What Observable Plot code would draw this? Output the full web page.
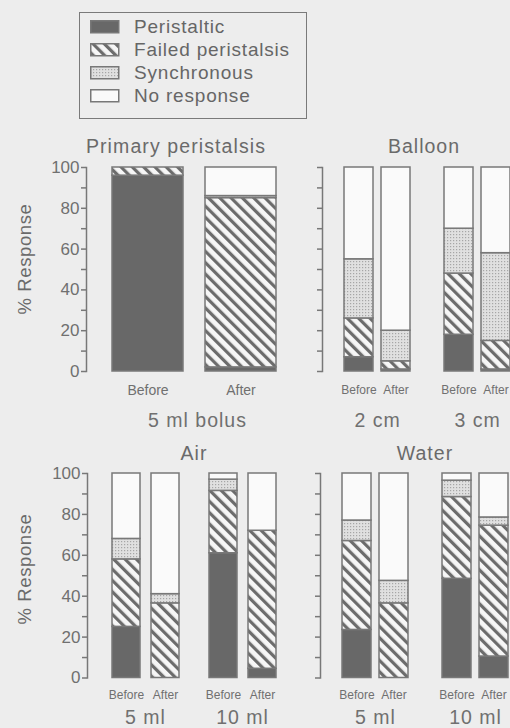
<!DOCTYPE html>
<html>
<head>
<meta charset="utf-8">
<script src="https://cdn.jsdelivr.net/npm/d3@7"></script>
<script src="https://cdn.jsdelivr.net/npm/@observablehq/plot@0.6"></script>
<style>
  html, body { margin: 0; padding: 0; background: #ededed; }
  #page { position: relative; width: 510px; height: 728px; overflow: hidden; background: #ededed;
          font-family: "Liberation Sans", Arial, Helvetica, sans-serif; color: #6a6a6a; }
  .panel { position: absolute; }
  .panel svg { overflow: visible; }
  #legend { position: absolute; left: 79px; top: 12px; width: 226px; height: 105px;
            border: 1.5px solid #7a7a7a; box-sizing: content-box; }
  .lrow { position: absolute; left: 0; height: 22px; }
  .lrow svg { position: absolute; left: 10px; top: 4px; }
  .lrow span { position: absolute; left: 54px; top: 0; font-size: 19px; letter-spacing: 0.8px;
               line-height: 22px; white-space: nowrap; color: #666; }
  g[aria-label="fx-axis tick label"] text { letter-spacing: 1px; }
  #overlay { position: absolute; left: 0; top: 0; pointer-events: none; }
  #overlay text { font-family: "Liberation Sans", Arial, Helvetica, sans-serif; fill: #6a6a6a; }
</style>
</head>
<body>
<svg width="0" height="0" style="position:absolute">
  <defs>
    <pattern id="hatch" patternUnits="userSpaceOnUse" width="8" height="8" patternTransform="rotate(-45)">
      <rect width="8" height="8" fill="#f6f6f6"></rect>
      <rect width="3.2" height="8" fill="#6c6c6c"></rect>
    </pattern>
    <pattern id="stip" patternUnits="userSpaceOnUse" width="3" height="3">
      <rect width="3" height="3" fill="#e0e0e0"></rect>
      <rect width="1.2" height="1.2" fill="#a6a6a6"></rect>
    </pattern>
  </defs>
</svg>
<div id="page"></div>
<script>
// ---------- data ----------
const categories = ["Peristaltic", "Failed peristalsis", "Synchronous", "No response"];
const conditions = ["Before", "After"];

// Primary peristalsis (5 ml bolus)
const bolusGroups = ["5 ml bolus"];
const bolusBefore = [96, 4, 0, 0];
const bolusAfter = [2, 83, 1, 14];

// Balloon
const balloonGroups = ["2 cm", "3 cm"];
const balloon2Before = [7, 19, 29, 45];
const balloon2After = [1, 4, 15, 80];
const balloon3Before = [18, 30, 22, 30];
const balloon3After = [1, 14, 43, 42];

// Air
const airGroups = ["5 ml", "10 ml"];
const air5Before = [25, 33, 10, 32];
const air5After = [0, 36.5, 4.5, 59];
const air10Before = [61, 30.5, 5.5, 3];
const air10After = [4.5, 67.5, 0, 28];

// Water
const waterGroups = ["5 ml", "10 ml"];
const water5Before = [23.5, 43.5, 10, 23];
const water5After = [0, 36.5, 11, 52.5];
const water10Before = [48.5, 40, 8, 3.5];
const water10After = [10.5, 64, 4, 21.5];

const yTicks = d3.range(0, 101, 10);
const fills = ["#686868", "url(#hatch)", "url(#stip)", "#fafafa"];

// ---------- helpers ----------
function rowsOf(groups, seriesByGroup) {
  const rows = [];
  groups.forEach((g, gi) => {
    conditions.forEach((c, ci) => {
      seriesByGroup[gi][ci].forEach((v, k) => {
        if (v > 0) rows.push({group: g, cond: c, cat: categories[k], value: v});
      });
    });
  });
  return rows;
}

function panel({rows, groups, width, height, marginTop, marginBottom, marginLeft, marginRight,
                fxPad, xPadInner, xPadOuter, labels, condFont, condPad, groupPad, groupDx}) {
  return Plot.plot({
    width, height, marginTop, marginBottom, marginLeft, marginRight,
    style: {background: "none", color: "#707070", fontFamily: "Liberation Sans, Arial, Helvetica, sans-serif"},
    fx: {domain: groups, paddingInner: fxPad, paddingOuter: 0, label: null},
    x: {domain: conditions, paddingInner: xPadInner, paddingOuter: xPadOuter, align: 1, label: null},
    y: {domain: [0, 100], label: null},
    color: {domain: categories, range: fills},
    marks: [
      Plot.barY(rows, {fx: "group", x: "cond", y: "value", fill: "cat", stroke: "#787878", strokeWidth: 1.5}),
      Plot.axisY({ticks: yTicks, tickSize: 5, tickPadding: 2, fontSize: 17, stroke: "#787878", strokeWidth: 1.5,
                  tickFormat: d => (labels && d % 20 === 0) ? String(d) : "", label: null}),
      Plot.frame({anchor: "left", facetAnchor: "left", stroke: "#787878", strokeWidth: 1.5}),
      Plot.axisX({anchor: "bottom", tickSize: 0, tickPadding: condPad, fontSize: condFont, label: null}),
      Plot.axisFx({anchor: "bottom", tickSize: 0, tickPadding: groupPad, dx: groupDx, fontSize: 19.5, label: null})
    ]
  });
}

const page = document.getElementById("page");
function place(node, left, top) {
  const d = document.createElement("div");
  d.className = "panel";
  d.style.left = left + "px";
  d.style.top = top + "px";
  d.appendChild(node);
  page.appendChild(d);
}

// ---------- panels ----------
place(panel({
  rows: rowsOf(bolusGroups, [[bolusBefore, bolusAfter]]), groups: bolusGroups,
  width: 290, height: 291, marginTop: 17, marginBottom: 70, marginLeft: 86, marginRight: 14,
  fxPad: 0, xPadInner: 0.234, xPadOuter: 0.128, labels: true, condFont: 14, condPad: 14, groupPad: 42, groupDx: 16
}), 0, 150);

place(panel({
  rows: rowsOf(balloonGroups, [[balloon2Before, balloon2After], [balloon3Before, balloon3After]]), groups: balloonGroups,
  width: 220, height: 291, marginTop: 17, marginBottom: 70, marginLeft: 32, marginRight: 0,
  fxPad: 0.12, xPadInner: 0.216, xPadOuter: 0.297, labels: false, condFont: 12, condPad: 14, groupPad: 42, groupDx: 11
}), 290, 150);

place(panel({
  rows: rowsOf(airGroups, [[air5Before, air5After], [air10Before, air10After]]), groups: airGroups,
  width: 290, height: 288, marginTop: 13, marginBottom: 70.5, marginLeft: 86, marginRight: 13.5,
  fxPad: 0.056, xPadInner: 0.29, xPadOuter: 0.316, labels: true, condFont: 12, condPad: 12, groupPad: 32, groupDx: 12
}), 0, 460);

place(panel({
  rows: rowsOf(waterGroups, [[water5Before, water5After], [water10Before, water10After]]), groups: waterGroups,
  width: 220, height: 288, marginTop: 13, marginBottom: 70.5, marginLeft: 30, marginRight: 2,
  fxPad: 0.12, xPadInner: 0.216, xPadOuter: 0.297, labels: false, condFont: 12, condPad: 12, groupPad: 32, groupDx: 11
}), 290, 460);

// ---------- legend ----------
const legend = document.createElement("div");
legend.id = "legend";
const legendTops = [15, 38, 60.5, 83.5];
categories.forEach((c, i) => {
  const row = document.createElement("div");
  row.className = "lrow";
  row.style.top = (legendTops[i] - 12) + "px";
  row.innerHTML = `<svg width="30" height="14"><rect x="0.75" y="0.75" width="28" height="12" fill="${fills[i]}" stroke="#787878" stroke-width="1.5"></rect></svg><span>${c}</span>`;
  legend.appendChild(row);
});
page.appendChild(legend);

// ---------- titles ----------
const overlay = `
<svg id="overlay" width="510" height="728">
  <text x="176" y="153" text-anchor="middle" font-size="19.5" letter-spacing="1.1">Primary peristalsis</text>
  <text x="424" y="153" text-anchor="middle" font-size="19.5" letter-spacing="1">Balloon</text>
  <text x="194" y="460" text-anchor="middle" font-size="19.5" letter-spacing="1">Air</text>
  <text x="425" y="460" text-anchor="middle" font-size="19.5" letter-spacing="1">Water</text>
  <text transform="translate(31,259) rotate(-90)" text-anchor="middle" font-size="18.5" letter-spacing="0.6">% Response</text>
  <text transform="translate(31,569) rotate(-90)" text-anchor="middle" font-size="18.5" letter-spacing="0.6">% Response</text>
</svg>`;
page.insertAdjacentHTML("beforeend", overlay);
</script>
</body>
</html>
